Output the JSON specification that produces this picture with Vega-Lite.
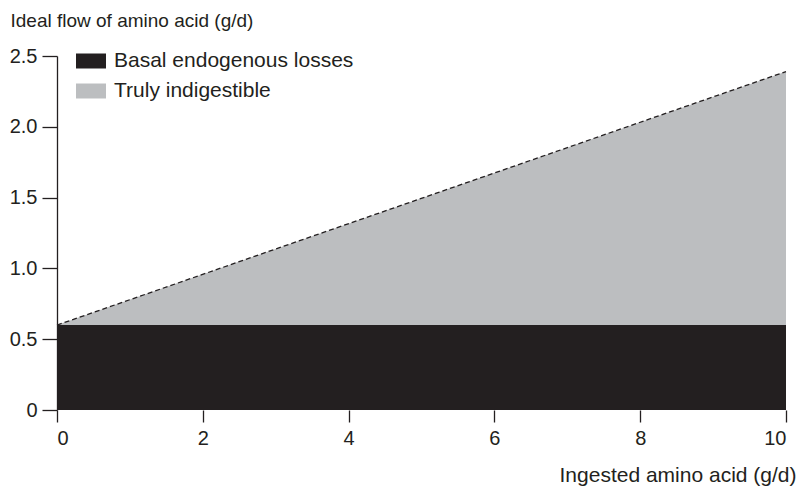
{
  "$schema": "https://vega.github.io/schema/vega-lite/v6.json",
  "autosize": {"type": "none"},
  "padding": {"left": 57, "top": 56, "right": 14, "bottom": 80},
  "width": 729,
  "height": 354,
  "background": "white",
  "config": {
    "view": {"stroke": null},
    "font": "Liberation Sans",
    "axis": {
      "labelColor": "#231f20",
      "titleColor": "#231f20",
      "domainColor": "#231f20",
      "tickColor": "#231f20",
      "domainWidth": 1.3,
      "tickWidth": 1.3,
      "grid": false,
      "labelFontSize": 20,
      "titleFontSize": 19,
      "titleFontWeight": "normal"
    },
    "legend": {"labelColor": "#231f20"}
  },
  "data": {
    "values": [
      {"x": 0, "series": "Basal endogenous losses", "lo": 0, "hi": 0.6},
      {"x": 10, "series": "Basal endogenous losses", "lo": 0, "hi": 0.6},
      {"x": 0, "series": "Truly indigestible", "lo": 0.6, "hi": 0.6},
      {"x": 10, "series": "Truly indigestible", "lo": 0.6, "hi": 2.39}
    ]
  },
  "layer": [
    {
      "mark": {"type": "area", "opacity": 1},
      "encoding": {
        "x": {
          "field": "x",
          "type": "quantitative",
          "scale": {"domain": [0, 10], "nice": false, "zero": false},
          "axis": {
            "values": [0, 2, 4, 6, 8, 10],
            "format": "d",
            "domain": false,
            "tickSize": 12,
            "labelPadding": 6,
            "title": "Ingested amino acid (g/d)",
            "titleFontSize": 21,
            "titleAnchor": "end",
            "titleAlign": "right",
            "titleBaseline": "alphabetic",
            "titleX": 739,
            "titleY": 71
          }
        },
        "y": {
          "field": "hi",
          "type": "quantitative",
          "stack": null,
          "scale": {"domain": [0, 2.5], "nice": false},
          "axis": {
            "values": [0, 0.5, 1, 1.5, 2, 2.5],
            "labelExpr": "datum.value == 0 ? '0' : format(datum.value, '.1f')",
            "tickSize": 15,
            "labelPadding": 5,
            "title": "Ideal flow of amino acid (g/d)",
            "titleAngle": 0,
            "titleAlign": "left",
            "titleBaseline": "alphabetic",
            "titleX": -47,
            "titleY": -30
          }
        },
        "y2": {"field": "lo"},
        "color": {
          "field": "series",
          "type": "nominal",
          "scale": {
            "domain": ["Basal endogenous losses", "Truly indigestible"],
            "range": ["#231f20", "#bcbec0"]
          },
          "legend": {
            "title": null,
            "orient": "none",
            "legendX": 19,
            "legendY": -10,
            "symbolType": "M-1,-0.5H1V0.5H-1Z",
            "symbolSize": 900,
            "symbolStrokeWidth": 0,
            "labelFontSize": 21,
            "labelLimit": 400,
            "labelOffset": 8,
            "rowPadding": 5,
            "padding": 0
          }
        }
      }
    },
    {
      "transform": [{"filter": "datum.series == 'Truly indigestible'"}],
      "mark": {"type": "line", "color": "#231f20", "strokeWidth": 1.3, "strokeDash": [5, 3]},
      "encoding": {
        "x": {"field": "x", "type": "quantitative"},
        "y": {"field": "hi", "type": "quantitative"}
      }
    }
  ]
}
